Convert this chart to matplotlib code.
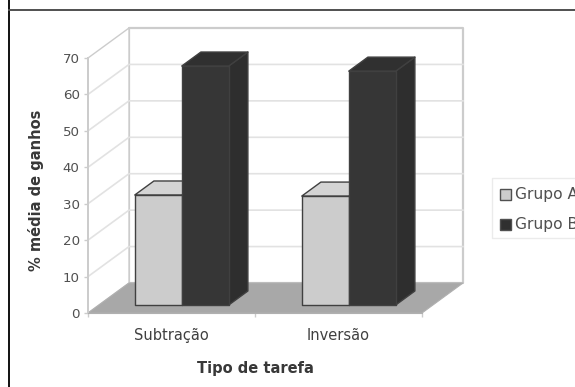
#!/usr/bin/env python3

import matplotlib
matplotlib.use("Agg")
import matplotlib.pyplot as plt
from matplotlib.patches import Polygon, Rectangle

# -----------------------------------------------------------------------------
# data
# -----------------------------------------------------------------------------

tarefas = ["Subtração", "Inversão"]
grupo_a = [30.2, 29.9]
grupo_b = [65.6, 64.2]
grupos = ["Grupo A", "Grupo B"]
y_ticks = [0, 10, 20, 30, 40, 50, 60, 70]

# -----------------------------------------------------------------------------
# setup
# -----------------------------------------------------------------------------

W, H = 575, 387
plt.rcParams["font.family"] = ["DejaVu Sans"]

fig = plt.figure(figsize=(W / 100, H / 100), dpi=100)
ax = fig.add_axes([88 / W, 1 - 313 / H, 334 / W, 255 / H])
ax.set_xlim(0, 2)
ax.set_ylim(0, 70)

# oblique depth: d=1 is the back wall
DX = 41 / 167
DY = 30 * 70 / 255


def pr(x, v, d):
    return (x + d * DX, v + d * DY)


def face(pts, fc, ec="#404040", lw=1.0, z=3):
    ax.add_patch(Polygon(pts, closed=True, fc=fc, ec=ec, lw=lw, zorder=z, clip_on=False, joinstyle="round"))


# -----------------------------------------------------------------------------
# walls and floor
# -----------------------------------------------------------------------------

wall = "#cccccc"
grid = "#e2e2e2"
face([pr(0, 70, 1), pr(2, 70, 1), pr(2, 0, 1), pr(0, 0, 1)], "white", wall, 1.6, 1)
face([pr(0, 0, 0), pr(0, 70, 0), pr(0, 70, 1), pr(0, 0, 1)], "white", wall, 1.0, 1)
for v in y_ticks[1:-1]:
    ax.plot(*zip(pr(0, v, 0), pr(0, v, 1), pr(2, v, 1)), color=grid, lw=1.2, zorder=1.5, clip_on=False)
face([pr(0, 0, 0), pr(2, 0, 0), pr(2, 0, 1), pr(0, 0, 1)], "#a8a8a8", "#b0b0b0", 0.8, 2)

# -----------------------------------------------------------------------------
# bars
# -----------------------------------------------------------------------------

BAR_W = 47 / 167
D0, D1 = 8 / 30, 22 / 30
colors = [("#cccccc", "#d4d4d4", "#b4b4b4"), ("#363636", "#303030", "#2e2e2e")]

for i in range(len(tarefas)):
    for j, vals in enumerate([grupo_a, grupo_b]):
        x0 = i + 0.5 - BAR_W + j * BAR_W - 0.004
        x1 = x0 + BAR_W
        v = vals[i]
        front, top, side = colors[j]
        z = 3 + j
        face([pr(x1, 0, D0), pr(x1, 0, D1), pr(x1, v, D1), pr(x1, v, D0)], side, z=z)
        face([pr(x0, v, D0), pr(x1, v, D0), pr(x1, v, D1), pr(x0, v, D1)], top, z=z)
        face([pr(x0, 0, D0), pr(x1, 0, D0), pr(x1, v, D0), pr(x0, v, D0)], front, z=z)

# -----------------------------------------------------------------------------
# axes
# -----------------------------------------------------------------------------

for s in ["top", "right"]:
    ax.spines[s].set_visible(False)
ax.spines["left"].set_color(wall)
ax.spines["left"].set_linewidth(1.4)
ax.spines["bottom"].set_color("#b0b0b0")
ax.patch.set_visible(False)

ax.set_yticks(y_ticks)
ax.tick_params(axis="y", length=3, width=1, color=wall, labelcolor="#505050", labelsize=9.6, pad=3)
ax.set_xticks([0.5, 1.5])
ax.set_xticklabels(tarefas)
ax.tick_params(axis="x", length=0, labelcolor="#404040", labelsize=10.5, pad=11)
ax.set_xticks([0, 1, 2], minor=True)
ax.tick_params(axis="x", which="minor", length=3, width=1, color=wall)
ax.set_xlabel("Tipo de tarefa", fontsize=10.5, fontweight="bold", color="#383838", labelpad=13)
ax.set_ylabel("% média de ganhos", fontsize=10.5, fontweight="bold", color="#383838")
ax.yaxis.set_label_coords(-0.132, 0.482)

# -----------------------------------------------------------------------------
# legend (runs past the right border) and frame
# -----------------------------------------------------------------------------

fig.add_artist(Rectangle((492 / W, 1 - 238 / H), 100 / W, 60 / H, transform=fig.transFigure,
                         fc="white", ec="#ebebeb", lw=1))
for k, (name, c, y) in enumerate(zip(grupos, ["#cccccc", "#303030"], [194.5, 224.5])):
    fig.add_artist(Rectangle((499.5 / W, 1 - (y + 5.5) / H), 11 / W, 11 / H, transform=fig.transFigure,
                             fc=c, ec="#505050", lw=1))
    fig.text(515 / W, 1 - y / H, name, fontsize=11.2, color="#505050", va="center", ha="left")

fig.add_artist(plt.Line2D([8.5 / W, 8.5 / W], [0, 1], color="#101010", lw=1.4))
fig.add_artist(plt.Line2D([8.5 / W, 1], [1 - 10 / H, 1 - 10 / H], color="#505050", lw=1.4))

fig.savefig("out.png", dpi=100)
